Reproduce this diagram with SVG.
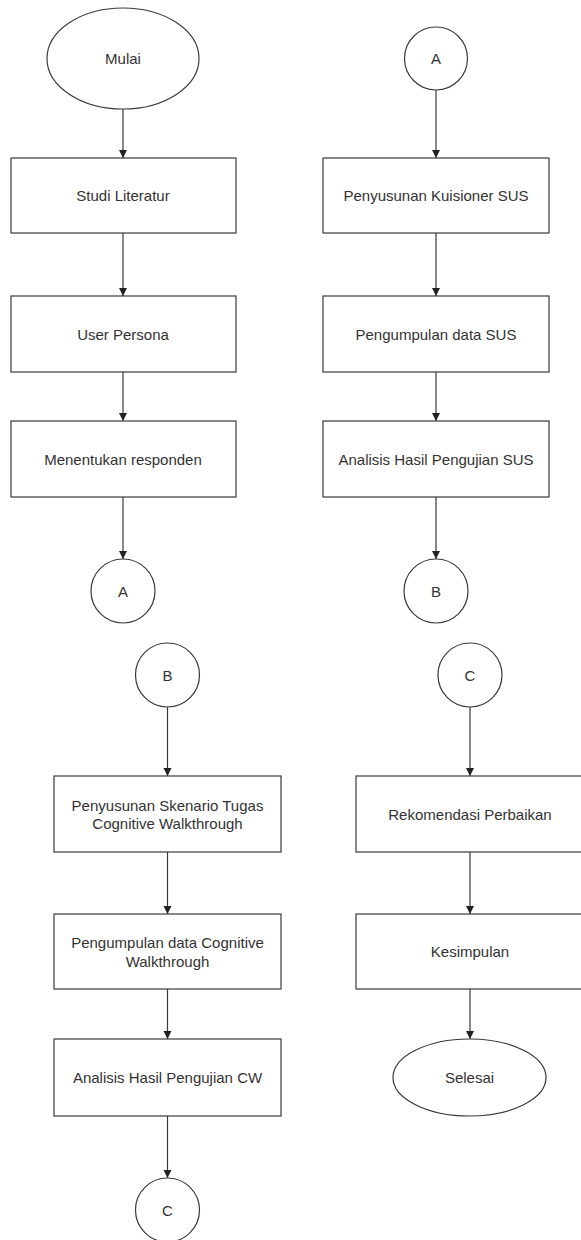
<svg xmlns="http://www.w3.org/2000/svg" width="581" height="1240" viewBox="0 0 581 1240">
<style>
.n{fill:#ffffff;stroke:#3a3a3a;stroke-width:1.2}
.t{font-family:"Liberation Sans",Arial,Helvetica,sans-serif;font-size:15px;fill:#333333;text-anchor:middle;dominant-baseline:central}
.c{fill:none;stroke:#3a3a3a;stroke-width:1.2;marker-end:url(#arr)}
</style>
<defs>
<marker id="arr" markerUnits="userSpaceOnUse" markerWidth="10" markerHeight="10" refX="8" refY="4" orient="auto">
<path d="M0,0 L8,4 L0,8 z" fill="#222"/>
</marker>
</defs>
<rect width="581" height="1240" fill="#ffffff"/>
<g id="connectors">
<line class="c" x1="123" y1="109" x2="123" y2="158"/>
<line class="c" x1="123" y1="233" x2="123" y2="296"/>
<line class="c" x1="123" y1="372" x2="123" y2="421"/>
<line class="c" x1="123" y1="497" x2="123" y2="559"/>
<line class="c" x1="436" y1="90" x2="436" y2="158"/>
<line class="c" x1="436" y1="233" x2="436" y2="296"/>
<line class="c" x1="436" y1="372" x2="436" y2="421"/>
<line class="c" x1="436" y1="497" x2="436" y2="559"/>
<line class="c" x1="167.5" y1="707" x2="167.5" y2="776"/>
<line class="c" x1="167.5" y1="852" x2="167.5" y2="914"/>
<line class="c" x1="167.5" y1="989" x2="167.5" y2="1039"/>
<line class="c" x1="167.5" y1="1116" x2="167.5" y2="1178"/>
<line class="c" x1="470" y1="707" x2="470" y2="776"/>
<line class="c" x1="470" y1="852" x2="470" y2="914"/>
<line class="c" x1="470" y1="989" x2="470" y2="1039"/>
</g>
<g id="mulai"><ellipse class="n" cx="123" cy="58.5" rx="76" ry="50.5"/><text class="t" x="123" y="58.5">Mulai</text></g>
<g id="studi"><rect class="n" x="11" y="158" width="225" height="75"/><text class="t" x="123" y="195.5">Studi Literatur</text></g>
<g id="persona"><rect class="n" x="11" y="296" width="225" height="76"/><text class="t" x="123" y="334">User Persona</text></g>
<g id="responden"><rect class="n" x="11" y="421" width="225" height="76"/><text class="t" x="123" y="459">Menentukan responden</text></g>
<g id="a1"><circle class="n" cx="123" cy="591" r="32"/><text class="t" x="123" y="591">A</text></g>
<g id="a2"><circle class="n" cx="436" cy="58.5" r="31.5"/><text class="t" x="436" y="58.5">A</text></g>
<g id="kuisioner"><rect class="n" x="323" y="158" width="226" height="75"/><text class="t" x="436" y="195.5">Penyusunan Kuisioner SUS</text></g>
<g id="pengumpulan-sus"><rect class="n" x="323" y="296" width="226" height="76"/><text class="t" x="436" y="334">Pengumpulan data SUS</text></g>
<g id="analisis-sus"><rect class="n" x="323" y="421" width="226" height="76"/><text class="t" x="436" y="459">Analisis Hasil Pengujian SUS</text></g>
<g id="b1"><circle class="n" cx="436" cy="591" r="32"/><text class="t" x="436" y="591">B</text></g>
<g id="b2"><circle class="n" cx="167.5" cy="675" r="32"/><text class="t" x="167.5" y="675">B</text></g>
<g id="skenario"><rect class="n" x="54" y="776" width="227" height="76"/><text class="t" x="167.5" y="805">Penyusunan Skenario Tugas</text><text class="t" x="167.5" y="823">Cognitive Walkthrough</text></g>
<g id="pengumpulan-cw"><rect class="n" x="54" y="914" width="227" height="75"/><text class="t" x="167.5" y="942.5">Pengumpulan data Cognitive</text><text class="t" x="167.5" y="961.5">Walkthrough</text></g>
<g id="analisis-cw"><rect class="n" x="54" y="1039" width="227" height="77"/><text class="t" x="167.5" y="1077.5">Analisis Hasil Pengujian CW</text></g>
<g id="c1"><circle class="n" cx="167.5" cy="1210" r="32"/><text class="t" x="167.5" y="1210">C</text></g>
<g id="c2"><circle class="n" cx="470" cy="675" r="32"/><text class="t" x="470" y="675">C</text></g>
<g id="rekomendasi"><rect class="n" x="356" y="776" width="228" height="76"/><text class="t" x="470" y="814">Rekomendasi Perbaikan</text></g>
<g id="kesimpulan"><rect class="n" x="356" y="914" width="228" height="75"/><text class="t" x="470" y="951.5">Kesimpulan</text></g>
<g id="selesai"><ellipse class="n" cx="469.5" cy="1077.5" rx="76.5" ry="38.5"/><text class="t" x="469.5" y="1077.5">Selesai</text></g>
</svg>
